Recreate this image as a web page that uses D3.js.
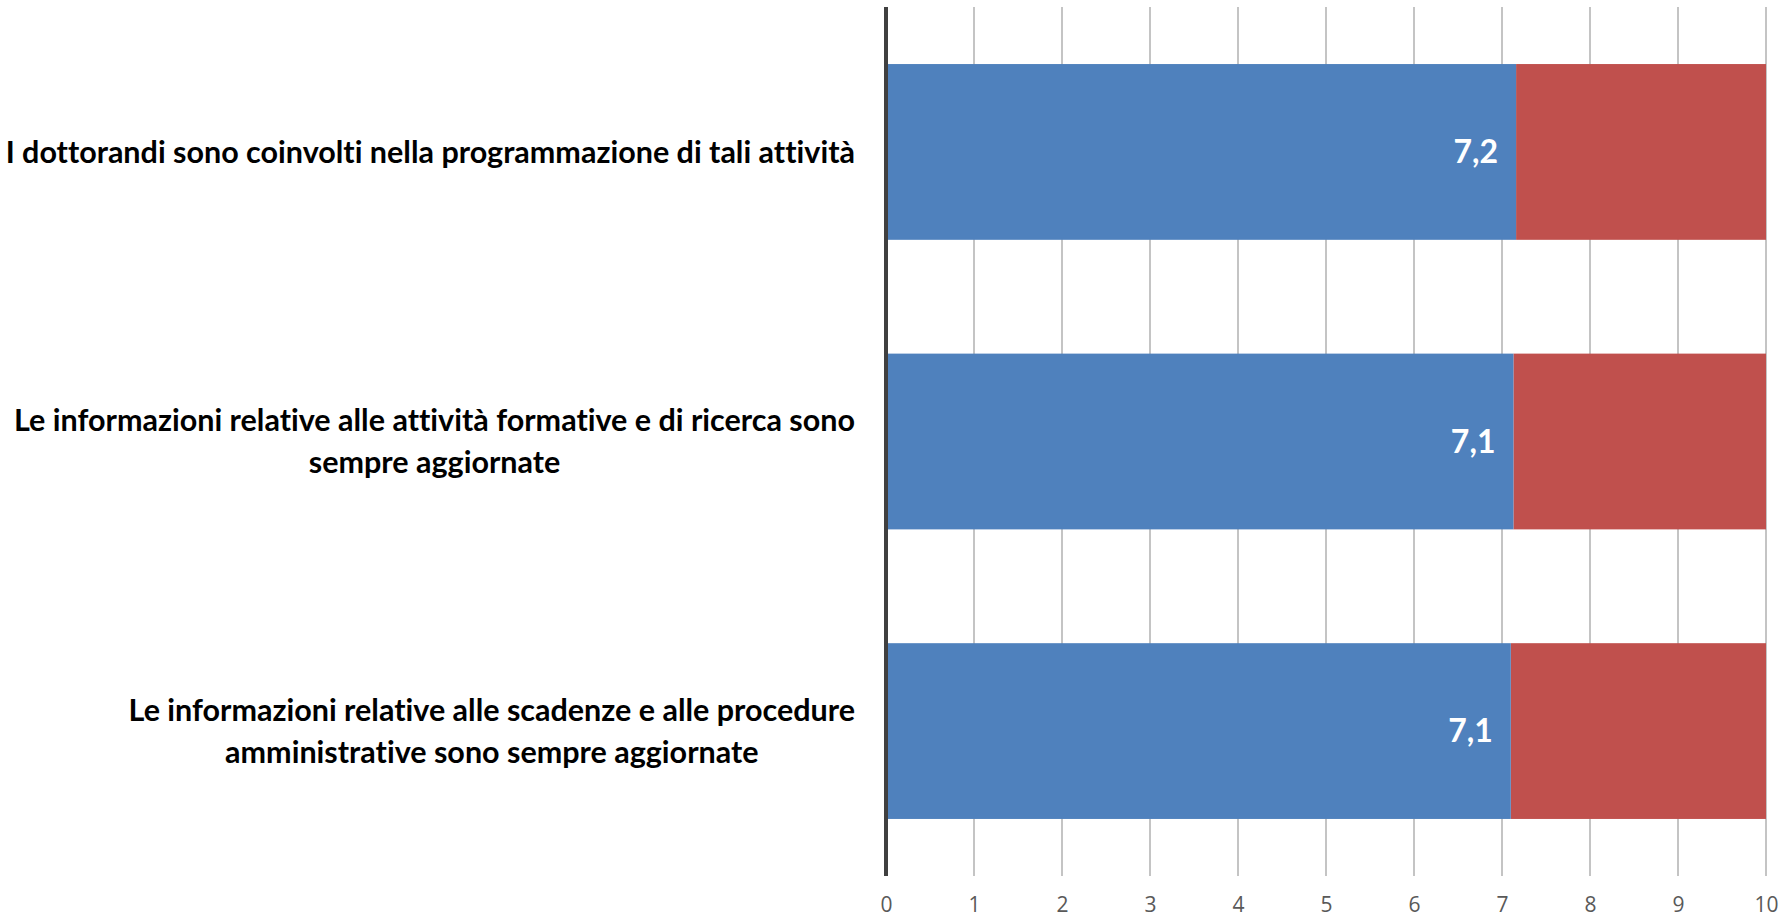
<!DOCTYPE html>
<html>
<head>
<meta charset="utf-8">
<script src="https://cdn.jsdelivr.net/npm/d3@7/dist/d3.min.js"></script>
<style>
  html, body { margin: 0; padding: 0; background: #ffffff; }
  svg { display: block; }
  text { font-variant-ligatures: none; font-feature-settings: "liga" 0; }
</style>
</head>
<body>
<svg id="chart" width="1783" height="918"></svg>
<script>
// ---- data ----
const categories = [
  "I dottorandi sono coinvolti nella programmazione di tali attività",
  "Le informazioni relative alle attività formative e di ricerca sono\nsempre aggiornate",
  "Le informazioni relative alle scadenze e alle procedure\namministrative sono sempre aggiornate"
];
const scoreValues = [7.16, 7.13, 7.10];
const valueLabels = ["7,2", "7,1", "7,1"];
const maxScale = 10;
const tickValues = [0, 1, 2, 3, 4, 5, 6, 7, 8, 9, 10];

// ---- layout ----
const svg = d3.select("#chart");
const plotTop = 7, plotBottom = 876;
const x = d3.scaleLinear().domain([0, maxScale]).range([886, 1766]);
const y = d3.scaleBand().domain(categories).range([plotTop, plotBottom])
  .paddingInner(0.393).paddingOuter(0.197);

const blue = "#4F81BD", red = "#C0504D";
const labelFont = "Lato, 'Open Sans', 'DejaVu Sans', sans-serif";

// gridlines
svg.append("g").selectAll("line").data(tickValues.filter(d => d > 0)).join("line")
  .attr("x1", d => x(d)).attr("x2", d => x(d))
  .attr("y1", plotTop).attr("y2", plotBottom)
  .attr("stroke", "#c4c4c4").attr("stroke-width", 2);

const rows = categories.map((c, i) => ({cat: c, v: scoreValues[i], label: valueLabels[i]}));

// remainder (red) segments
svg.append("g").selectAll("rect").data(rows).join("rect")
  .attr("x", d => x(d.v)).attr("y", d => y(d.cat))
  .attr("width", d => x(maxScale) - x(d.v)).attr("height", y.bandwidth())
  .attr("fill", red);

// score (blue) segments
svg.append("g").selectAll("rect").data(rows).join("rect")
  .attr("x", x(0)).attr("y", d => y(d.cat))
  .attr("width", d => x(d.v) - x(0)).attr("height", y.bandwidth())
  .attr("fill", blue);

// value labels
svg.append("g").selectAll("text").data(rows).join("text")
  .attr("x", d => x(d.v) - 18)
  .attr("y", d => y(d.cat) + y.bandwidth() / 2)
  .attr("dy", "0.35em")
  .attr("text-anchor", "end")
  .attr("font-family", labelFont).attr("font-weight", "bold")
  .attr("font-size", 32).attr("fill", "#ffffff")
  .text(d => d.label);

// axis line (y axis at 0)
svg.append("line")
  .attr("x1", x(0)).attr("x2", x(0))
  .attr("y1", plotTop).attr("y2", plotBottom)
  .attr("stroke", "#404040").attr("stroke-width", 4);

// x tick labels
const xAxis = d3.axisBottom(x).tickValues(tickValues).tickSize(0).tickPadding(0)
  .tickFormat(d3.format("d"));
const gx = svg.append("g").attr("transform", `translate(0, 912)`).call(xAxis);
gx.select(".domain").remove();
gx.selectAll("text")
  .attr("dy", "0")
  .attr("font-family", "'Open Sans', 'DejaVu Sans', sans-serif")
  .attr("font-size", 21).attr("fill", "#595959");

// category labels (right aligned block, lines centred within block)
const catLabelRight = 855;
const lineHeight = 42;
const g = svg.append("g");
categories.forEach(c => {
  const lines = c.split("\n");
  const t = g.append("text")
    .attr("font-family", labelFont).attr("font-weight", "bold")
    .attr("font-size", 30.5).attr("fill", "#000000");
  const cy = y(c) + y.bandwidth() / 2;
  const spans = lines.map((ln, i) => t.append("tspan")
    .attr("y", cy + (i - (lines.length - 1) / 2) * lineHeight)
    .attr("dy", "0.35em")
    .attr("text-anchor", "middle")
    .text(ln));
  const widths = spans.map(s => s.node().getComputedTextLength());
  const maxW = d3.max(widths);
  spans.forEach(s => s.attr("x", catLabelRight - maxW / 2));
});
</script>
</body>
</html>
